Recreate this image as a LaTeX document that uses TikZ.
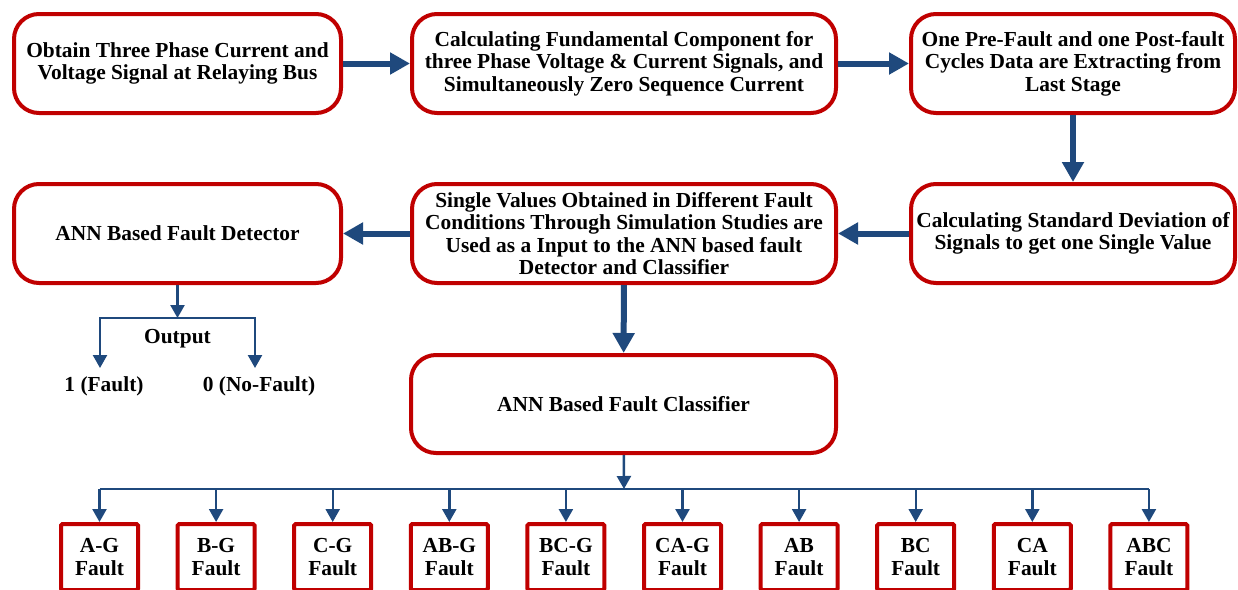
\documentclass[tikz,border=0pt]{standalone}
\usepackage{fontspec}
\setmainfont{Liberation Serif}
\usetikzlibrary{arrows.meta}
\definecolor{boxred}{RGB}{192,0,0}
\definecolor{arrowblue}{RGB}{31,73,125}
\tikzset{
  txt/.style={font=\bfseries\fontsize{21.4}{22.5}\selectfont, align=center, inner sep=1pt},
  stage/.style={txt, draw=boxred, line width=4pt, rounded corners=25pt, fill=white},
  faultbox/.style={txt, draw=boxred, line width=4pt, rounded corners=1.5pt,
    minimum width=77pt, minimum height=66pt, fill=white},
  bigarrow/.style={draw=arrowblue, line width=6pt, -{Triangle[width=21pt,length=20pt]}},
  smallarrow/.style={draw=arrowblue, line width=2.4pt, -{Triangle[width=14pt,length=13pt]}},
  busline/.style={draw=arrowblue, line width=2.4pt},
}
\begin{document}
\begin{tikzpicture}[x=1pt,y=-1pt]
\clip (0,0) rectangle (1238,589);
\fill[white] (0,0) rectangle (1238,589);

% processing stages
\node[stage, minimum width=327pt, minimum height=99pt] (b1) at (177.5,63.5)
  {Obtain Three Phase Current and\\Voltage Signal at Relaying Bus};
\node[stage, minimum width=424pt, minimum height=99pt] (b2) at (624,63.5)
  {Calculating Fundamental Component for\\three Phase Voltage \& Current Signals, and\\Simultaneously Zero Sequence Current};
\node[stage, minimum width=324pt, minimum height=99pt] (b3) at (1073,63.5)
  {One Pre-Fault and one Post-fault\\Cycles Data are Extracting from\\Last Stage};
\node[stage, minimum width=324pt, minimum height=99pt] (b4) at (1073,233.5)
  {Calculating Standard Deviation of\\Signals to get one Single Value};
\node[stage, minimum width=424pt, minimum height=99pt] (b5) at (624,233.5)
  {Single Values Obtained in Different Fault\\Conditions Through Simulation Studies are\\Used as a Input to the ANN based fault\\Detector and Classifier};
\node[stage, minimum width=327pt, minimum height=99pt] (b6) at (177.5,233.5)
  {ANN Based Fault Detector};
\node[stage, minimum width=425pt, minimum height=98pt] (b7) at (623.5,404)
  {ANN Based Fault Classifier};

% main flow
\draw[bigarrow] (b1) -- (b2);
\draw[bigarrow] (b2) -- (b3);
\draw[bigarrow] (b3) -- (b4);
\draw[bigarrow] (b4) -- (b5);
\draw[bigarrow] (b5) -- (b6);
\draw[bigarrow] (b5) -- (b7);

% detector output
\node[txt] (out) at (177.5,339) {Output};
\node[txt] (yes) at (104,386) {1 (Fault)};
\node[txt] (no) at (259,386) {0 (No-Fault)};
\coordinate (split) at (177.5,318);
\coordinate (yesend) at (100,368);
\coordinate (noend) at (255,368);
\draw[smallarrow] (b6) -- (split);
\draw[smallarrow] (split) -| (yesend);
\draw[smallarrow] (split) -| (noend);

% fault classes
\foreach \n/\t [count=\i from 0] in {ag/A-G, bg/B-G, cg/C-G, abg/AB-G, bcg/BC-G,
    cag/CA-G, ab/AB, bc/BC, ca/CA, abc/ABC} {
  \node[faultbox] (\n) at (99.5+116.6*\i,557) {\t\\Fault};
}
\coordinate (bus) at (624,489);
\draw[smallarrow] (b7) -- (bus);
\draw[busline] (ag.north |- bus) -- (abc.north |- bus);
\foreach \n in {ag, bg, cg, abg, bcg, cag, ab, bc, ca, abc} {
  \draw[smallarrow] (\n.north |- bus) -- (\n.north);
}
\end{tikzpicture}
\end{document}
